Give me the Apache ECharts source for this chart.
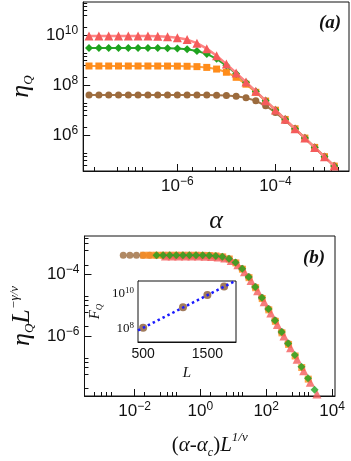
<!DOCTYPE html>
<html lang="en">
<head>
    <meta charset="UTF-8">
    <script src="https://cdn.jsdelivr.net/npm/echarts@6/dist/echarts.min.js"></script>
    <title>eta_Q collapse</title>
    <style>
        html, body { margin: 0; padding: 0; background: #fff; }
        #main { width: 351px; height: 461px; }
    </style>
</head>
<body>
<div id="main"></div>
<script type="text/javascript">
    // panel (a): alpha values and eta_Q for the four system sizes
    var alpha = [1.58e-8, 2.51e-8, 3.98e-8, 6.31e-8, 1.0e-7, 1.58e-7, 2.51e-7, 3.98e-7, 6.31e-7,
        1.0e-6, 1.58e-6, 2.51e-6, 3.98e-6, 6.31e-6, 1.0e-5, 1.58e-5, 2.51e-5, 3.98e-5, 6.31e-5,
        1.0e-4, 1.58e-4, 2.51e-4, 3.98e-4, 6.31e-4, 1.0e-3, 1.58e-3];
    var etaRed = [9.12e9, 9.12e9, 9.12e9, 9.12e9, 9.12e9, 9.08e9, 9.02e9, 8.85e9, 8.51e9,
        7.82e9, 6.55e9, 4.73e9, 2.85e9, 1.47e9, 6.85e8, 3.03e8, 1.31e8, 5.56e7, 2.36e7,
        9.98e6, 4.23e6, 1.79e6, 7.55e5, 3.19e5, 1.35e5, 5.70e4];
    var etaGreen = [3.02e9, 3.02e9, 3.02e9, 3.02e9, 3.02e9, 3.01e9, 3.01e9, 2.99e9, 2.95e9,
        2.86e9, 2.67e9, 2.31e9, 1.75e9, 1.11e9, 5.96e8, 2.84e8, 1.27e8, 5.50e7, 2.35e7,
        9.98e6, 4.22e6, 1.79e6, 7.55e5, 3.19e5, 1.35e5, 5.70e4];
    var etaOrange = [5.75e8, 5.75e8, 5.75e8, 5.75e8, 5.75e8, 5.75e8, 5.75e8, 5.74e8, 5.73e8,
        5.69e8, 5.61e8, 5.43e8, 5.06e8, 4.34e8, 3.24e8, 2.03e8, 1.08e8, 5.11e7, 2.28e7,
        9.84e6, 4.20e6, 1.78e6, 7.53e5, 3.19e5, 1.35e5, 5.70e4];
    var etaBrown = [3.98e7, 3.98e7, 3.98e7, 3.98e7, 3.98e7, 3.98e7, 3.98e7, 3.98e7, 3.98e7,
        3.98e7, 3.97e7, 3.96e7, 3.94e7, 3.89e7, 3.78e7, 3.53e7, 3.06e7, 2.33e7, 1.48e7,
        8.00e6, 3.82e6, 1.71e6, 7.41e5, 3.17e5, 1.35e5, 5.69e4];

    // panel (b): collapse factors L^(1/nu) and L^(-gamma/nu), order brown, orange, green, red
    var xScale = [2.88e5, 1.2e6, 2.95e6, 5.5e6];
    var yScale = [1.02e-11, 7.08e-13, 1.35e-13, 4.2e-14];

    // inset: F_Q against L, with the fitted line
    var sizeL = [500, 1120, 1500, 1760];
    var fisherQ = [1.17e8, 1.74e9, 8.7e9, 2.63e10];
    var fitL = [420, 1945];
    var fitF = [8.3e7, 5.8e10];

    var colors = ['#9c6b3d', '#ff8c1a', '#1fa31f', '#f45b5b'];
    var lineColors = ['#a57548', '#ff9d3a', '#2aa82a', '#ff8585'];
    var symbols = ['circle', 'rect', 'diamond', 'triangle'];
    var sizes = [7, 7, 8, 9];
    var etas = [etaBrown, etaOrange, etaGreen, etaRed];

    // tick sets: long ticks at even decades, short ones between (as in the figure)
    function minorTicks(e0, e1) {
        var out = [];
        for (var e = e0; e <= e1; e += 2) {
            [2, 6, 10, 14, 19].forEach(function (m) { out.push(m * Math.pow(10, e)); });
        }
        return out;
    }

    var SANS = 'Liberation Sans';
    var SERIF = 'Liberation Serif';
    var tickRich = {
        b: { fontFamily: SANS, fontSize: 17, lineHeight: 21, color: '#111' },
        s: { fontFamily: SANS, fontSize: 12, lineHeight: 11, verticalAlign: 'top', color: '#111' }
    };
    var insetRich = {
        b: { fontFamily: SERIF, fontSize: 13, lineHeight: 15, color: '#111' },
        s: { fontFamily: SERIF, fontSize: 9, lineHeight: 8, verticalAlign: 'top', color: '#111' }
    };
    function powLabel(v) {
        var e = Math.round(Math.log10(v));
        return '{b|10}{s|' + (e < 0 ? '\u2212' + (-e) : e) + '}';
    }
    var nameRich = {
        i: { fontFamily: SERIF, fontStyle: 'italic', fontSize: 26, lineHeight: 28, color: '#111' },
        p: { fontFamily: SERIF, fontSize: 21, lineHeight: 28, color: '#111' },
        sub: { fontFamily: SERIF, fontStyle: 'italic', fontSize: 13, lineHeight: 8, verticalAlign: 'bottom', color: '#111' },
        sup: { fontFamily: SERIF, fontStyle: 'italic', fontSize: 13, lineHeight: 12, verticalAlign: 'top', color: '#111' },
        ix: { fontFamily: SERIF, fontStyle: 'italic', fontSize: 21, lineHeight: 26, color: '#111' },
        sx: { fontFamily: SERIF, fontStyle: 'italic', fontSize: 12, lineHeight: 8, verticalAlign: 'bottom', color: '#111' },
        ux: { fontFamily: SERIF, fontStyle: 'italic', fontSize: 13, lineHeight: 11, verticalAlign: 'top', color: '#111' }
    };

    function logAxis(grid, min, max, majors, labels, opts) {
        var ax = {
            type: 'log', gridIndex: grid, min: min, max: max,
            axisLine: { show: true, lineStyle: { color: '#111', width: 1 } },
            axisTick: { show: true, inside: true, length: 7, customValues: majors, lineStyle: { color: '#111', width: 1 } },
            axisLabel: { show: true, customValues: labels, formatter: powLabel, rich: tickRich, margin: 5 },
            splitLine: { show: false }
        };
        return Object.assign(ax, opts || {});
    }
    function minorAxis(grid, min, max, ticks, pos) {
        return {
            type: 'log', gridIndex: grid, min: min, max: max, position: pos,
            axisLine: { show: false },
            axisTick: { show: true, inside: true, length: 4, customValues: ticks, lineStyle: { color: '#111', width: 1 } },
            axisLabel: { show: false },
            splitLine: { show: false }
        };
    }

    var myChart = echarts.init(document.getElementById('main'), null, { renderer: 'canvas' });

    var series = [];
    // (a) lines with markers
    etas.forEach(function (eta, k) {
        series.push({
            type: 'line', xAxisIndex: 0, yAxisIndex: 0,
            data: alpha.map(function (a, i) { return [a, eta[i]]; }),
            symbol: symbols[k], symbolSize: sizes[k], showSymbol: true,
            lineStyle: { color: lineColors[k], width: k === 3 ? 2.5 : 2 },
            itemStyle: { color: colors[k] },
            z: 2 + k, silent: true, animation: false
        });
    });
    // (b) collapsed points, green drawn last
    [0, 1, 3, 2].forEach(function (k) {
        series.push({
            type: 'scatter', xAxisIndex: 2, yAxisIndex: 2,
            data: alpha.map(function (a, i) { return [a * xScale[k], etas[k][i] * yScale[k]]; }),
            symbol: symbols[k], symbolSize: sizes[k],
            itemStyle: { color: colors[k] },
            clip: true, silent: true, animation: false
        });
    });
    // inset
    series.push({
        type: 'scatter', xAxisIndex: 4, yAxisIndex: 4,
        data: sizeL.map(function (L, i) { return [L, fisherQ[i]]; }),
        symbol: 'circle', symbolSize: 8,
        itemStyle: { color: '#8a5a33' }, z: 5, silent: true, animation: false
    });
    series.push({
        type: 'line', xAxisIndex: 4, yAxisIndex: 4,
        data: fitL.map(function (L, i) { return [L, fitF[i]]; }),
        symbol: 'none', clip: true,
        lineStyle: { color: '#1a1aff', width: 2.5, type: [2.5, 3] },
        z: 6, silent: true, animation: false
    });

    var option = {
        animation: false,
        backgroundColor: '#fff',
        grid: [
            { left: 75, top: 2, width: 274, height: 169, show: true, borderColor: '#111', borderWidth: 1 },
            { left: 75, top: 236, width: 260, height: 160, show: true, borderColor: '#111', borderWidth: 1 },
            { left: 138, top: 281, width: 98, height: 61, show: true, borderColor: '#111', borderWidth: 1, backgroundColor: '#fff', z: 4 }
        ],
        xAxis: [
            logAxis(0, 1.2e-8, 3.16e-3, [1e-6, 1e-4], [1e-6, 1e-4], {
                position: 'bottom',
                name: '{i|\u03b1}', nameLocation: 'middle', nameGap: 36,
                nameTextStyle: { rich: nameRich }
            }),
            minorAxis(0, 1.2e-8, 3.16e-3, minorTicks(-8, -4), 'bottom'),
            logAxis(1, 3.02e-4, 1.23e4, [1e-2, 1, 1e2, 1e4], [1e-2, 1, 1e2, 1e4], {
                position: 'bottom',
                name: '{p|(}{ix|\u03b1}{p|-}{ix|\u03b1}{sx|c}{p|)}{ix|L}{ux|1/\u03bd}',
                nameLocation: 'middle', nameGap: 35,
                nameTextStyle: { rich: nameRich }
            }),
            minorAxis(1, 3.02e-4, 1.23e4, minorTicks(-4, 2), 'bottom'),
            {
                type: 'value', gridIndex: 2, min: 420, max: 1945, position: 'bottom',
                axisLine: { show: true, lineStyle: { color: '#111' } },
                axisTick: { show: true, inside: true, length: 5, customValues: sizeL.concat([1000]), lineStyle: { color: '#111' } },
                axisLabel: {
                    customValues: [500, 1500], fontFamily: SANS, fontSize: 14, color: '#111', margin: 5,
                    formatter: function (v) { return String(v); }
                },
                splitLine: { show: false },
                name: 'L', nameLocation: 'middle', nameGap: 24,
                nameTextStyle: { fontFamily: SERIF, fontStyle: 'italic', fontSize: 15, color: '#111' }
            }
        ],
        yAxis: [
            logAxis(0, 3.63e4, 2.09e11, [1e6, 1e8, 1e10], [1e6, 1e8, 1e10], {
                position: 'left',
                name: '{i|\u03b7}{sub|Q}', nameLocation: 'middle', nameGap: 35, nameRotate: 90,
                nameTextStyle: { rich: nameRich }
            }),
            minorAxis(0, 3.63e4, 2.09e11, minorTicks(4, 10), 'left'),
            logAxis(1, 1.15e-8, 1.70e-3, [1e-6, 1e-4], [1e-6, 1e-4], {
                position: 'left',
                name: '{i|\u03b7}{sub|Q}{i|L}{sup|\u2212\u03b3/\u03bd}', nameLocation: 'middle', nameGap: 46, nameRotate: 90,
                nameTextStyle: { rich: nameRich }
            }),
            minorAxis(1, 1.15e-8, 1.70e-3, minorTicks(-8, -4), 'left'),
            {
                type: 'log', gridIndex: 2, min: 1.82e7, max: 5.5e10, position: 'left',
                axisLine: { show: true, lineStyle: { color: '#111' } },
                axisTick: { show: true, inside: true, length: 5, customValues: [1e8, 4e8, 6e8, 8e8, 1e10, 4e10], lineStyle: { color: '#111' } },
                axisLabel: { customValues: [1e8, 1e10], formatter: powLabel, rich: insetRich, margin: 4 },
                splitLine: { show: false },
                name: '{i|F}{s|Q}', nameLocation: 'middle', nameGap: 34, nameRotate: 90,
                nameTextStyle: {
                    rich: {
                        i: { fontFamily: SERIF, fontStyle: 'italic', fontSize: 15, lineHeight: 18, color: '#111' },
                        s: { fontFamily: SERIF, fontStyle: 'italic', fontSize: 9, lineHeight: 6, verticalAlign: 'bottom', color: '#111' }
                    }
                }
            }
        ],
        graphic: [
            { type: 'text', x: 330, y: 23, z: 10, style: { text: '(a)', font: 'italic bold 19px "Liberation Serif"', fill: '#111', textAlign: 'center', textVerticalAlign: 'middle' } },
            { type: 'text', x: 314, y: 258, z: 10, style: { text: '(b)', font: 'italic bold 19px "Liberation Serif"', fill: '#111', textAlign: 'center', textVerticalAlign: 'middle' } }
        ],
        series: series
    };

    myChart.setOption(option);
</script>
</body>
</html>
